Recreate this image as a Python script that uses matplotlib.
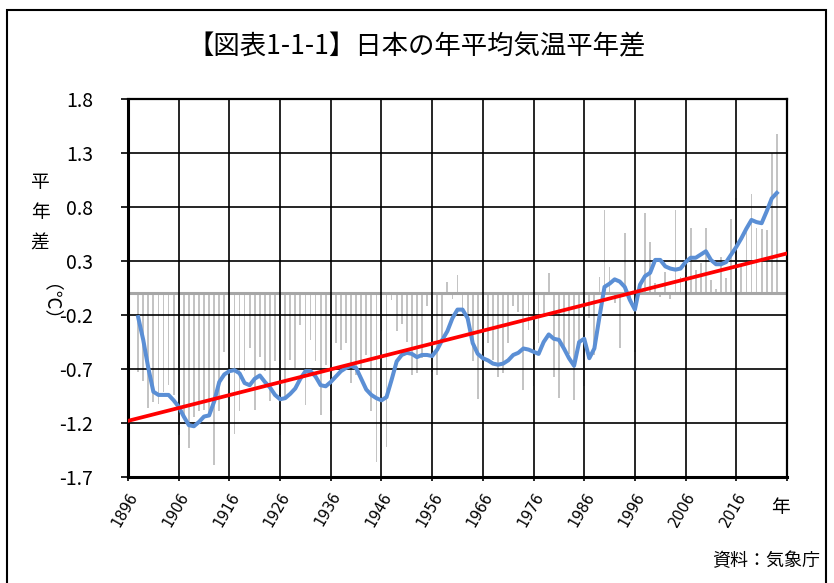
import matplotlib as mpl
import matplotlib.pyplot as plt
import numpy as np
from matplotlib.patches import Rectangle

mpl.rcParams["font.family"] = ["Noto Sans CJK JP", "DejaVu Sans"]

# annual anomaly, 1898-2024
years = np.arange(1898, 2025)
anomaly = [
    -0.73, -0.81, -1.06, -1.01, -1.02, -0.91, -0.85, -0.94, -1.31, -1.14,  # 1898-1907
    -1.43, -1.14, -1.09, -1.08, -1.13, -1.59, -1.09, -0.54, -0.76, -1.30,  # 1908-1917
    -1.09, -0.72, -0.51, -1.08, -0.59, -0.72, -1.00, -0.63, -1.31, -0.97,  # 1918-1927
    -0.62, -0.69, -0.29, -1.03, -0.43, -0.63, -1.13, -0.66, -1.09, -0.46,  # 1928-1937
    -0.52, -0.46, -0.83, -0.76, -0.69, -0.57, -1.09, -1.56, -0.35, -1.42,  # 1938-1947
    -0.06, -0.35, -0.28, -0.45, -0.76, -0.74, -0.60, -0.12, -0.73, -0.76,  # 1948-1957
    -0.40, 0.11, -0.05, 0.17, -0.17, -0.28, -0.63, -0.98, -0.57, -0.46,  # 1958-1967
    -0.62, -0.77, -0.74, -0.46, -0.12, -0.17, -0.89, -0.34, -0.86, -0.46,  # 1968-1977
    -0.22, 0.19, -0.77, -0.97, -0.52, -0.56, -0.99, -0.43, -0.86, -0.23,  # 1978-1987
    -0.57, 0.15, 0.77, 0.24, -0.09, -0.51, 0.56, -0.05, -0.54, 0.10,  # 1988-1997
    0.74, 0.48, 0.10, -0.03, 0.20, -0.05, 0.77, 0.15, 0.20, 0.61,  # 1998-2007
    0.22, 0.28, 0.61, 0.12, 0.04, 0.34, 0.14, 0.69, 0.88, 0.25,  # 2008-2017
    0.60, 0.92, 0.61, 0.60, 0.59, 1.30, 1.48,  # 2018-2024
]

# 5-year running mean (blue curve)
running_mean = [
    -0.22, -0.43, -0.69, -0.91, -0.94, -0.94, -0.94, -0.99, -1.05, -1.14,
    -1.22, -1.23, -1.19, -1.14, -1.13, -1.00, -0.82, -0.75, -0.72, -0.71,
    -0.74, -0.83, -0.85, -0.79, -0.76, -0.82, -0.87, -0.94, -0.98, -0.97,
    -0.93, -0.88, -0.79, -0.72, -0.72, -0.77, -0.85, -0.86, -0.82, -0.77,
    -0.72, -0.69, -0.67, -0.69, -0.79, -0.89, -0.94, -0.97, -0.99, -0.96,
    -0.80, -0.63, -0.57, -0.55, -0.56, -0.59, -0.57, -0.57, -0.58, -0.52,
    -0.43, -0.35, -0.23, -0.15, -0.15, -0.23, -0.46, -0.56, -0.60, -0.62,
    -0.65, -0.66, -0.65, -0.62, -0.57, -0.55, -0.51, -0.52, -0.54, -0.56,
    -0.45, -0.38, -0.42, -0.43, -0.51, -0.60, -0.67, -0.45, -0.42, -0.60,
    -0.51, -0.22, 0.06, 0.09, 0.13, 0.11, 0.06, -0.06, -0.15, 0.08,
    0.16, 0.19, 0.31, 0.31, 0.25, 0.23, 0.22, 0.23, 0.29, 0.33,
    0.33, 0.36, 0.39, 0.31, 0.27, 0.27, 0.29, 0.36, 0.43, 0.51,
    0.60, 0.68, 0.66, 0.65, 0.76, 0.88, 0.93,
]

# linear trend end points
trend_years = [1896, 2026]
trend_values = [-1.18, 0.37]

yticks = [-1.7, -1.2, -0.7, -0.2, 0.3, 0.8, 1.3, 1.8]
xticks = list(range(1896, 2017, 10))

fig = plt.figure(figsize=(8.34, 5.83), dpi=100)
ax = fig.add_axes([0.1535, 0.1818, 0.7901, 0.6484])

ax.bar(years, anomaly, width=0.35, color="#c4c4c4", zorder=2)
ax.axhline(0, color="#a6a6a6", lw=2.2, zorder=2.5)
ax.plot(years, running_mean, color="#5b8fd5", lw=2.9, zorder=4)
ax.plot(trend_years, trend_values, color="#ff0000", lw=2.7, zorder=5)

ax.set_xlim(1896, 2026)
ax.set_ylim(-1.7, 1.8)
ax.set_xticks(xticks + [2026])
ax.set_xticklabels([str(x) for x in xticks] + [""], rotation=60, ha="right",
                   rotation_mode="anchor", fontsize=10.5, family="DejaVu Sans")
ax.set_yticks(yticks)
ax.set_yticklabels([f"{v:.1f}" for v in yticks], fontsize=14)
ax.tick_params(axis="y", length=5, width=1.2, pad=20)
ax.tick_params(axis="x", length=3, width=1.2, pad=6)

ax.grid(True, color="black", lw=1.2, zorder=1)
ax.set_axisbelow(False)
for side in ["left", "bottom"]:
    ax.spines[side].set_linewidth(2.2)
for side in ["right", "top"]:
    ax.spines[side].set_linewidth(1.6)

fig.text(0.5, 0.919, "【図表1-1-1】日本の年平均気温平年差", ha="center", va="center",
         fontsize=19)

# stacked y-axis caption
fig.text(0.048, 0.635, "平\n年\n差", ha="center", va="center", fontsize=13.5, linespacing=1.6)
fig.text(0.048, 0.465, "（℃）", ha="center", va="center", fontsize=13.5, rotation=270)

fig.text(0.936, 0.13, "年", ha="center", va="center", fontsize=13.5)
fig.text(0.983, 0.037, "資料：気象庁", ha="right", va="center", fontsize=13)

fig.patches.append(Rectangle((0.008, -0.02), 0.982, 1.003, transform=fig.transFigure,
                             fill=False, edgecolor="black", lw=1.5))

fig.savefig("out.png", dpi=100)
